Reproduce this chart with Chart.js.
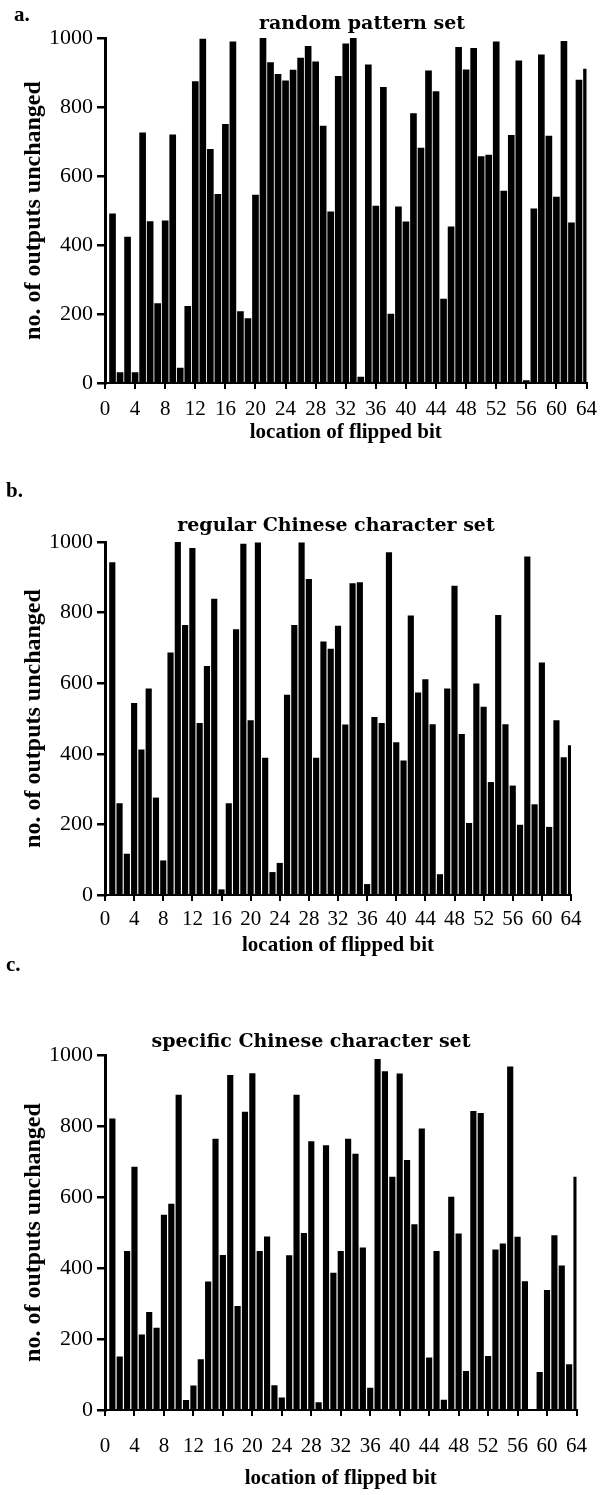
<!DOCTYPE html>
<html>
<head>
<meta charset="utf-8">
<script src="https://cdn.jsdelivr.net/npm/chart.js@4.4.0/dist/chart.umd.min.js"></script>
<style>
  body { margin: 0; background: #fff; width: 605px; height: 1495px; position: relative; overflow: hidden; font-family: "Liberation Serif", serif; color: #000; }
  .panel { position: absolute; left: 0; width: 605px; }
  .panel canvas { display: block; }
  .lbl { position: absolute; font-weight: bold; font-size: 21px; line-height: 24px; white-space: nowrap; }
  .ttl { position: absolute; font-family: "DejaVu Serif", serif; font-weight: bold; font-size: 19px; line-height: 24px; white-space: nowrap; transform: translateX(-50%); }
</style>
</head>
<body>
<div class="panel" style="top:0px;height:450px"><canvas id="chartA" width="605" height="450"></canvas></div>
<div class="panel" style="top:460px;height:500px"><canvas id="chartB" width="605" height="500"></canvas></div>
<div class="panel" style="top:960px;height:535px"><canvas id="chartC" width="605" height="535"></canvas></div>

<div class="lbl" style="left:14px;top:2px">a.</div>
<div class="ttl" style="left:362px;top:10px">random pattern set</div>
<div class="lbl" style="left:6px;top:478px">b.</div>
<div class="ttl" style="left:336px;top:512px">regular Chinese character set</div>
<div class="lbl" style="left:6px;top:952px">c.</div>
<div class="ttl" style="left:311px;top:1028px">specific Chinese character set</div>

<script>
// bit positions 1..64 (x categories)
const bitLocation = [1, 2, 3, 4, 5, 6, 7, 8, 9, 10, 11, 12, 13, 14, 15, 16,
  17, 18, 19, 20, 21, 22, 23, 24, 25, 26, 27, 28, 29, 30, 31, 32,
  33, 34, 35, 36, 37, 38, 39, 40, 41, 42, 43, 44, 45, 46, 47, 48,
  49, 50, 51, 52, 53, 54, 55, 56, 57, 58, 59, 60, 61, 62, 63, 64];

const xTickValues = [0, 4, 8, 12, 16, 20, 24, 28, 32, 36, 40, 44, 48, 52, 56, 60, 64];
const yTickValues = [0, 200, 400, 600, 800, 1000];

// no. of outputs unchanged, per flipped bit
const randomPatternSet = [490, 30, 423, 30, 725, 468, 230, 470, 719, 43, 222, 874, 997, 677, 547, 750,
  989, 207, 187, 545, 999, 929, 895, 876, 907, 942, 976, 931, 745, 496, 889, 983,
  999, 17, 922, 513, 857, 200, 511, 467, 781, 681, 905, 845, 243, 453, 973, 908,
  970, 656, 661, 989, 556, 718, 934, 7, 505, 951, 716, 539, 990, 464, 878, 910];

const regularChineseSet = [942, 259, 116, 543, 411, 584, 275, 97, 686, 1000, 764, 982, 486, 648, 838, 15,
  259, 752, 994, 494, 998, 388, 64, 90, 566, 764, 998, 894, 388, 717, 697, 762,
  482, 882, 885, 30, 503, 486, 970, 432, 380, 791, 573, 610, 483, 58, 584, 875,
  455, 203, 598, 532, 319, 792, 483, 309, 198, 958, 256, 658, 192, 494, 389, 423];

const specificChineseSet = [820, 150, 447, 684, 212, 275, 231, 549, 580, 887, 27, 68, 142, 361, 763, 436,
  943, 292, 839, 948, 447, 488, 69, 34, 435, 887, 498, 756, 21, 745, 386, 447,
  763, 721, 457, 62, 988, 953, 656, 947, 703, 522, 792, 147, 447, 28, 600, 496,
  109, 841, 836, 151, 451, 468, 967, 487, 362, 0, 106, 337, 491, 406, 128, 656];

const serif = 'Liberation Serif';

function makeChart(id, values, box) {
    const ctx = document.getElementById(id).getContext('2d');
    return new Chart(ctx, {
        type: 'bar',
        data: {
            datasets: [{
                data: bitLocation.map((b, i) => ({ x: b, y: values[i] })),
                backgroundColor: '#000',
                borderWidth: 0,
                barThickness: box.barW
            }]
        },
        options: {
            responsive: false,
            animation: false,
            devicePixelRatio: 1,
            layout: { padding: { top: box.padTop, right: box.padRight, left: 0, bottom: 0 } },
            plugins: { legend: { display: false }, tooltip: { enabled: false } },
            scales: {
                x: {
                    type: 'linear',
                    min: 0,
                    max: 64,
                    offset: false,
                    afterBuildTicks: s => { s.ticks = xTickValues.map(v => ({ value: v })); },
                    afterFit: s => { s.height = box.xAxisHeight; },
                    grid: { offset: false, drawOnChartArea: false, drawTicks: true, tickLength: 6, color: '#000', lineWidth: 2 },
                    border: { display: true, color: '#000', width: 2 },
                    ticks: { color: '#000', font: { family: serif, size: 21 }, padding: box.tickPad, maxRotation: 0, autoSkip: false },
                    title: {
                        display: true,
                        text: 'location of flipped bit',
                        color: '#000',
                        font: { family: serif, size: 21, weight: 'bold' },
                        padding: { top: 0, bottom: box.titlePad }
                    }
                },
                y: {
                    min: 0,
                    max: 1000,
                    afterBuildTicks: s => { s.ticks = yTickValues.map(v => ({ value: v })); },
                    afterFit: s => { s.width = 105; },
                    grid: { drawOnChartArea: false, drawTicks: true, tickLength: 8, color: '#000', lineWidth: 2.5 },
                    border: { display: true, color: '#000', width: 3 },
                    ticks: { color: '#000', font: { family: serif, size: 22 }, padding: 4, callback: v => String(v) },
                    title: {
                        display: true,
                        text: 'no. of outputs unchanged',
                        color: '#000',
                        font: { family: serif, size: 24, weight: 'bold' },
                        padding: { top: 19, bottom: 0 }
                    }
                }
            }
        }
    });
}

makeChart('chartA', randomPatternSet, { padTop: 38, padRight: 18, xAxisHeight: 67, tickPad: 8, titlePad: 5, barW: 6 });
makeChart('chartB', regularChineseSet, { padTop: 82, padRight: 34, xAxisHeight: 65, tickPad: 6, titlePad: 2, barW: 5.5 });
makeChart('chartC', specificChineseSet, { padTop: 95, padRight: 28, xAxisHeight: 85, tickPad: 18, titlePad: 4, barW: 5.5 });
</script>
</body>
</html>
